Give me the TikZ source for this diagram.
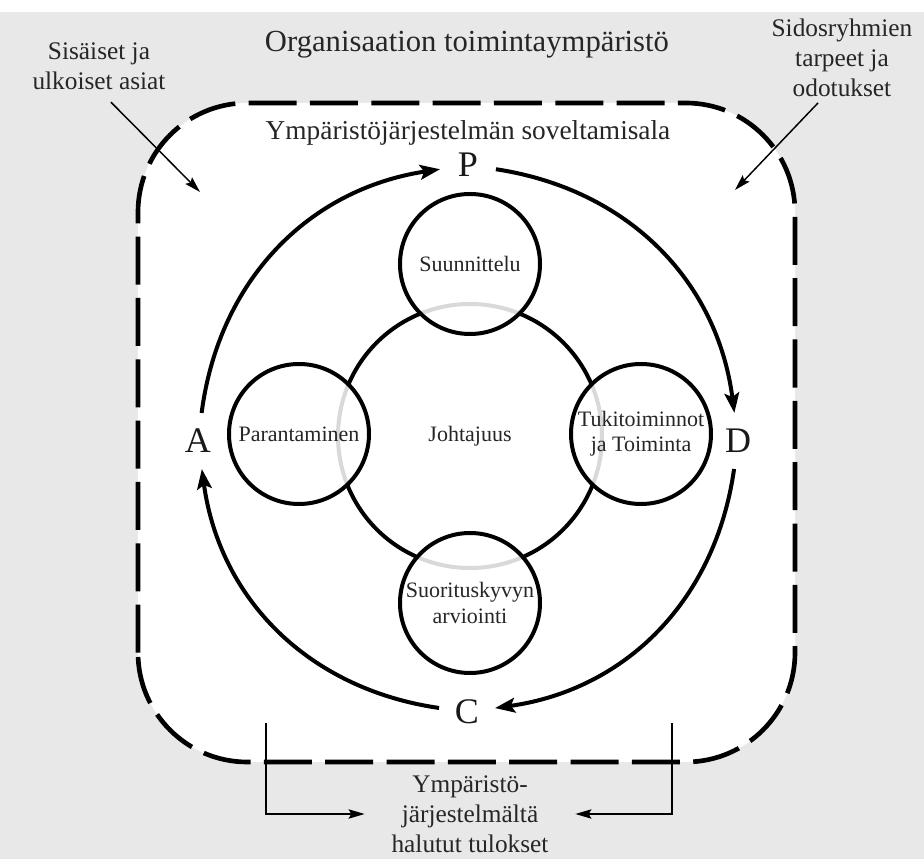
\documentclass[tikz,border=0pt]{standalone}
\usepackage{fontspec}
\setmainfont{Liberation Serif}
\usetikzlibrary{arrows.meta}

\begin{document}
\begin{tikzpicture}[x=0.75pt,y=0.75pt,
        vaihe/.style={circle,draw=black,line width=3pt,fill=white,fill opacity=0.85,text opacity=1,
            minimum size=105pt,inner sep=0pt,align=center,text=black!85,font=\fontsize{16.5}{19}\selectfont},
        kirjain/.style={circle,minimum size=42pt,inner sep=0pt,text=black!90,font=\fontsize{27}{30}\selectfont},
        kierto/.style={line width=3pt,-{Stealth[length=15pt,width=11pt,inset=3pt]}},
        ohut/.style={line width=1.1pt,-{Stealth[length=12pt,width=7pt,inset=2pt]}},
        reuna/.style={line width=3.5pt,dash pattern=on 36pt off 10pt,rounded corners=82pt,fill=white},
        selite/.style={align=center,text=black!85,font=\fontsize{19}{22.5}\selectfont}]
    \useasboundingbox (-470,-423) rectangle (454,436);
    \fill[black!9] (-470,-423) rectangle (454,424);

    % soveltamisalan raja
    \draw[reuna] (-332,-326) rectangle (325,333);
    \node[text=black!85,font=\fontsize{23}{26}\selectfont] (otsikko) at (-3,391) {Organisaation toimintaympäristö};
    \node[text=black!85,font=\fontsize{20.5}{24}\selectfont] (ala) at (-2,303) {Ympäristöjärjestelmän soveltamisala};

    % johtajuus ja vaiheet
    \node[circle,draw=black,line width=3pt,minimum size=198pt,text=black!85,font=\fontsize{16.5}{19}\selectfont] (johto) at (0,0) {Johtajuus};
    \node[vaihe] (suun) at (0,172) {Suunnittelu};
    \node[vaihe] (tuki) at (171,2) {Tukitoiminnot\\ja Toiminta};
    \node[vaihe] (suor) at (0,-167) {Suorituskyvyn\\arviointi};
    \node[vaihe] (para) at (-171,2) {Parantaminen};

    % PDCA
    \node[kirjain] (P) at (-2,271) {P};
    \node[kirjain] (D) at (268,-5) {D};
    \node[kirjain] (C) at (-3,-276) {C};
    \node[kirjain] (A) at (-272,-5) {A};
    \draw[kierto] (A) to[bend left=37] (P);
    \draw[kierto] (P) to[bend left=37] (D);
    \draw[kierto] (D) to[bend left=37] (C);
    \draw[kierto] (C) to[bend left=37] (A);

    % syotteet
    \node[selite] (sisa) at (-371,370) {Sisäiset ja\\ulkoiset asiat};
    \coordinate (sisakarki) at (-270,244);
    \draw[ohut] ([xshift=9pt,yshift=-6pt]sisa.south) -- (sisakarki);
    \node[selite] (sido) at (372,378) {Sidosryhmien\\tarpeet ja\\odotukset};
    \coordinate (sidokarki) at (265,246);
    \draw[ohut] ([xshift=-18pt,yshift=-1pt]sido.south) -- (sidokarki);

    % tulokset
    \node[selite,inner xsep=20pt] (tulos) at (0,-378) {Ympäristö-\\järjestelmältä\\halutut tulokset};
    \coordinate (vasen) at (-204,-287);
    \coordinate (oikea) at (202,-287);
    \draw[ohut] (vasen) |- (tulos.west);
    \draw[ohut] (oikea) |- (tulos.east);
\end{tikzpicture}
\end{document}
